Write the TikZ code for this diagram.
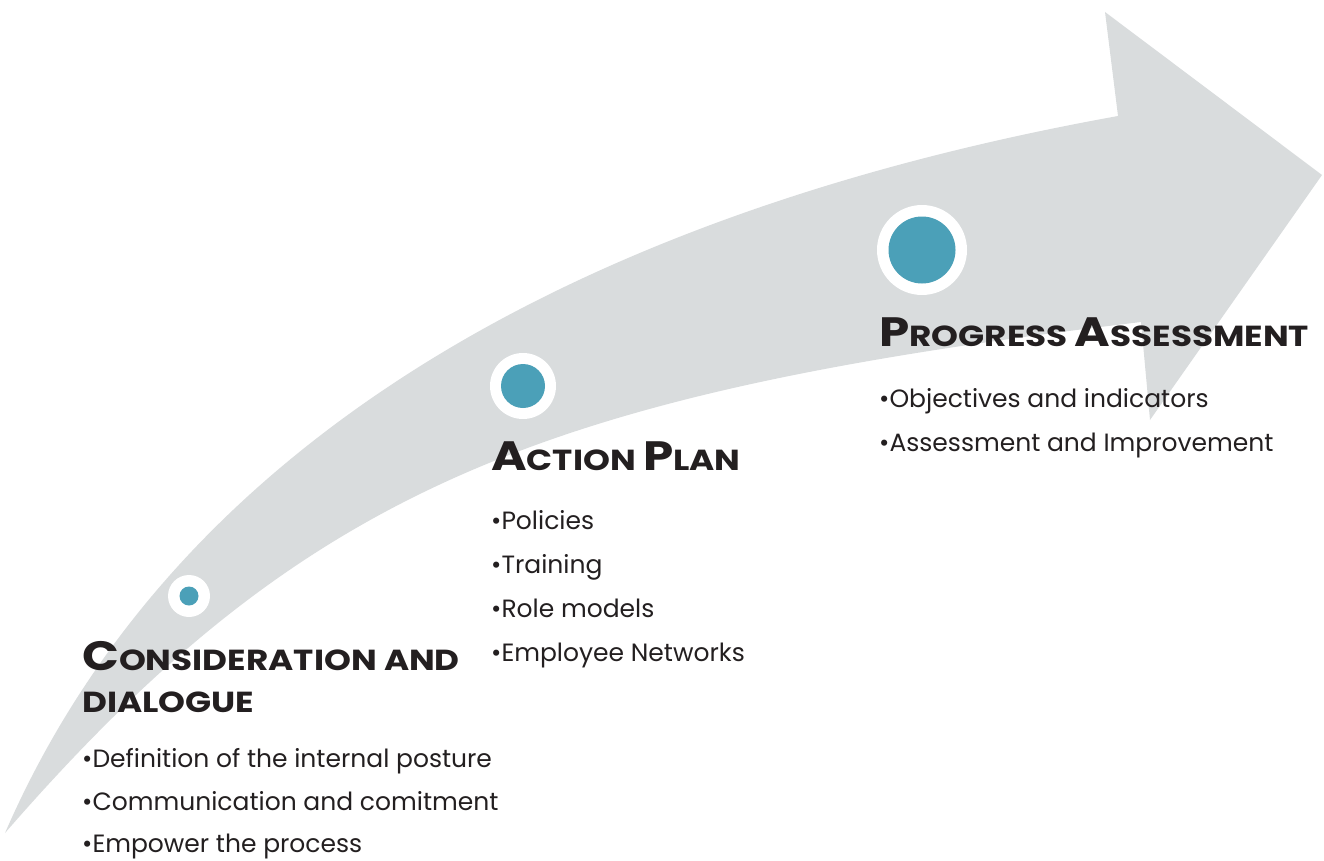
\documentclass[tikz,border=0pt]{standalone}
\usepackage{fontspec}
\setmainfont{Poppins}
\definecolor{arrowgray}{HTML}{D9DCDD}
\definecolor{teal}{HTML}{4BA0B8}
\definecolor{ink}{HTML}{231F20}
\newcommand\hbig[1]{{\fontsize{41}{41}\selectfont #1}}
\newcommand\hsml[1]{{\fontsize{29}{29}\selectfont #1}}
\begin{document}
\begin{tikzpicture}[x=1pt,y=-1pt,
  heading/.style={anchor=base west,inner sep=0pt,text=ink,font=\bfseries,xscale=1.18},
  bul/.style={anchor=base west,inner sep=0pt,text=ink,font=\fontsize{25}{25}\selectfont},
  ring/.style={circle,fill=white,inner sep=0pt},
  dot/.style={circle,fill=teal,inner sep=0pt}]
\useasboundingbox (0,0) rectangle (1324,861);
% arrow
\coordinate (tail) at (5,833);
\coordinate (uc) at (1118,116);
\coordinate (ht) at (1105,12);
\coordinate (tip) at (1322,175);
\coordinate (hb) at (1150,420);
\coordinate (lc) at (1141,322);
\fill[arrowgray] (tail) .. controls (185,419) and (618,206) .. (uc)
  -- (ht) -- (tip) -- (hb) -- (lc)
  .. controls (541,394) and (305,488) .. (tail) -- cycle;
% circles
\node[ring,minimum size=42pt] (r1) at (189,596) {};
\node[dot,minimum size=19pt] (d1) at (r1.center) {};
\node[ring,minimum size=66pt] (r2) at (523,386) {};
\node[dot,minimum size=44pt] (d2) at (r2.center) {};
\node[ring,minimum size=90pt] (r3) at (922,250) {};
\node[dot,minimum size=67pt] (d3) at (r3.center) {};
% progress assessment
\node[heading] (h3) at (879,346) {\hbig{P}\hsml{ROGRESS }\hbig{A}\hsml{SSESSMENT}};
\node[bul] (b31) at (879,407) {•Objectives and indicators};
\node[bul] (b32) at (879,451) {•Assessment and Improvement};
% action plan
\node[heading] (h2) at (491,470) {\hbig{A}\hsml{CTION }\hbig{P}\hsml{LAN}};
\node[bul] (b21) at (491,529) {•Policies};
\node[bul] (b22) at (491,573) {•Training};
\node[bul] (b23) at (491,617) {•Role models};
\node[bul] (b24) at (491,661) {•Employee Networks};
% consideration
\node[heading] (h1a) at (82,670) {\hbig{C}\hsml{ONSIDERATION AND}};
\node[heading] (h1b) at (82,712) {\hsml{DIALOGUE}};
\node[bul] (b11) at (82,767) {•Definition of the internal posture};
\node[bul] (b12) at (82,810) {•Communication and comitment};
\node[bul] (b13) at (82,852) {•Empower the process};
\end{tikzpicture}
\end{document}
